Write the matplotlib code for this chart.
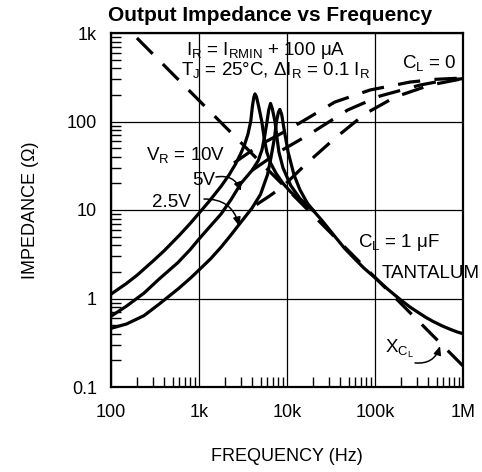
import matplotlib
matplotlib.use("Agg")
import matplotlib.pyplot as plt
from matplotlib.ticker import FixedLocator, LogLocator, NullFormatter

plt.rcParams['font.family'] = ['Liberation Sans', 'DejaVu Sans']
plt.rcParams['mathtext.fontset'] = 'custom'
plt.rcParams['mathtext.rm'] = 'Liberation Sans'
plt.rcParams['mathtext.it'] = 'Liberation Sans:italic'

# shared high-frequency tail of the C_L = 1 uF curves
f_tail = [20000, 25000, 33000, 45000, 56000, 75000, 100000, 140000,
          192000, 250000, 300000, 380000, 458000, 580000, 711000, 850000, 1000000]
z_tail = [9.8, 7.6, 5.4, 3.7, 2.95, 2.2, 1.72, 1.27,
          0.98, 0.80, 0.71, 0.61, 0.55, 0.49, 0.45, 0.42, 0.40]

# solid curves, C_L = 1 uF tantalum (frequency Hz, impedance ohm)
f_10v = [100, 150, 200, 300, 400, 600, 800, 1000, 1300, 1780, 2200, 2600, 3000,
         3300, 3600, 3870, 4050, 4200, 4330, 4500, 4750, 5170, 5500, 5900, 6500,
         7500, 9000, 11000, 14000, 17000, 20000]
z_10v = [1.12, 1.48, 1.85, 2.65, 3.45, 5.2, 7.1, 9.2, 12.5, 18.5, 25, 33, 44,
         55, 72, 100, 150, 188, 205, 190, 150, 100, 65, 45, 34,
         26, 20, 16, 13, 11.2, 9.8]

f_5v = [100, 150, 237, 350, 577, 800, 1000, 1350, 1780, 2300, 3000, 4000, 4700,
        5200, 5600, 5930, 6200, 6500, 6800, 7300, 7700, 8100, 9000, 11000, 14000,
        17000, 20000]
z_5v = [0.63, 0.82, 1.15, 1.65, 2.55, 3.6, 4.7, 6.6, 9.0, 13, 20, 28, 36,
        48, 70, 100, 135, 160, 140, 100, 65, 45, 30, 19, 13.5,
        11.3, 9.8]

f_25v = [100, 150, 237, 350, 577, 800, 1000, 1350, 1780, 2300, 3000, 4000, 5000,
         6000, 6600, 7200, 7600, 8000, 8300, 8700, 9300, 10300, 12000, 14000,
         17000, 20000]
z_25v = [0.46, 0.515, 0.64, 0.86, 1.28, 1.7, 2.1, 2.8, 3.8, 5.2, 7.3, 10.5, 15,
         25, 40, 65, 100, 128, 137, 120, 80, 45, 25, 17,
         12, 9.8]

# dashed curves, C_L = 0
f_open_10v = [2500, 5000, 9000, 14900, 35000, 88000, 250000, 500000, 1000000]
z_open_10v = [34, 55, 75, 100, 166, 227, 279, 300, 310]
f_open_5v = [4000, 8000, 17300, 49000, 114000, 324000, 600000, 1000000]
z_open_5v = [28, 45, 70, 135, 194, 258, 290, 305]
f_open_25v = [4500, 6400, 9000, 16400, 34000, 77000, 169000, 422000, 1000000]
z_open_25v = [11.5, 14.5, 18.5, 33, 63, 122, 189, 258, 305]

# capacitor reactance X_CL
f_xc = [100, 1000000]
z_xc = [1730, 0.173]

x_ticks = [100, 1e3, 1e4, 1e5, 1e6]
x_labels = ['100', '1k', '10k', '100k', '1M']
y_ticks = [0.1, 1, 10, 100, 1000]
y_labels = ['0.1', '1', '10', '100', '1k']

fig = plt.figure(figsize=(4.82, 4.72), dpi=100)
ax = fig.add_axes([111 / 482, 1 - 387 / 472, 352 / 482, 354 / 472])
ax.set_xscale('log')
ax.set_yscale('log')
ax.set_xlim(100, 1e6)
ax.set_ylim(0.1, 1000)

solid = dict(color='black', lw=2.3, solid_capstyle='round', solid_joinstyle='round')
dashed = dict(color='black', lw=2.3, linestyle=(0, (7, 4.5)))
for f, z in [(f_10v, z_10v), (f_5v, z_5v), (f_25v, z_25v)]:
    ax.plot(f, z, **solid)
ax.plot(f_tail, z_tail, **solid)
for f, z in [(f_open_10v, z_open_10v), (f_open_5v, z_open_5v), (f_open_25v, z_open_25v)]:
    ax.plot(f, z, **dashed)
ax.plot(f_xc, z_xc, **dashed)

ax.xaxis.set_major_locator(FixedLocator(x_ticks))
ax.yaxis.set_major_locator(FixedLocator(y_ticks))
ax.set_xticklabels(x_labels)
ax.set_yticklabels(y_labels)
ax.xaxis.set_minor_locator(LogLocator(base=10, subs=range(2, 10), numticks=20))
ax.yaxis.set_minor_locator(LogLocator(base=10, subs=range(2, 10), numticks=20))
ax.xaxis.set_minor_formatter(NullFormatter())
ax.yaxis.set_minor_formatter(NullFormatter())
ax.tick_params(which='major', length=0, labelsize=13)
ax.tick_params(axis='x', which='major', pad=12)
ax.tick_params(axis='y', which='major', pad=10)
ax.tick_params(which='minor', direction='in', length=7, width=1, color='black')
ax.grid(True, which='major', color='black', lw=0.9)
for s in ax.spines.values():
    s.set_linewidth(1.6)

ax.set_xlabel('FREQUENCY (Hz)', fontsize=13, labelpad=20)
ax.set_ylabel('IMPEDANCE (Ω)', fontsize=13, labelpad=20)
fig.text(270 / 482, 1 - 21 / 472, 'Output Impedance vs Frequency', fontsize=15,
         fontweight='bold', ha='center', va='baseline')

fs = 13.5
ax.text(5770, 564, r'$\mathregular{I_R}$ = $\mathregular{I_{RMIN}}$ + 100 μA',
        fontsize=fs, ha='center', va='baseline')
ax.text(7500, 335, r'$\mathregular{T_J}$ = 25°C, Δ$\mathregular{I_R}$ = 0.1 $\mathregular{I_R}$',
        fontsize=fs, ha='center', va='baseline')
ax.text(203000, 403, r'$\mathregular{C_L}$ = 0', fontsize=fs, ha='left', va='baseline')
ax.text(250, 36.7, r'$\mathregular{V_R}$ = 10V', fontsize=fs, ha='left', va='baseline')
ax.text(832, 19.1, '5V', fontsize=fs, ha='left', va='baseline')
ax.text(292, 10.8, '2.5V', fontsize=fs, ha='left', va='baseline')
ax.text(64000, 3.82, r'$\mathregular{C_L}$ = 1 μF', fontsize=fs, ha='left', va='baseline')
ax.text(120000, 1.71, 'TANTALUM', fontsize=fs, ha='left', va='baseline')
ax.text(130000, 0.242, r'$\mathregular{X_{C_L}}$', fontsize=fs, ha='left', va='baseline')

arrow = dict(arrowstyle='-|>,head_length=0.5,head_width=0.22', color='black', lw=1.1,
             shrinkA=0, shrinkB=0)
ax.annotate('', xy=(3000, 16.4), xytext=(1560, 23.6),
            arrowprops=dict(connectionstyle='arc3,rad=-0.4', **arrow))
ax.annotate('', xy=(2850, 6.6), xytext=(1140, 13.3),
            arrowprops=dict(connectionstyle='arc3,rad=-0.4', **arrow))
ax.annotate('', xy=(548000, 0.29), xytext=(285000, 0.187),
            arrowprops=dict(connectionstyle='arc3,rad=0.4', **arrow))

fig.savefig('out.png', dpi=100)
